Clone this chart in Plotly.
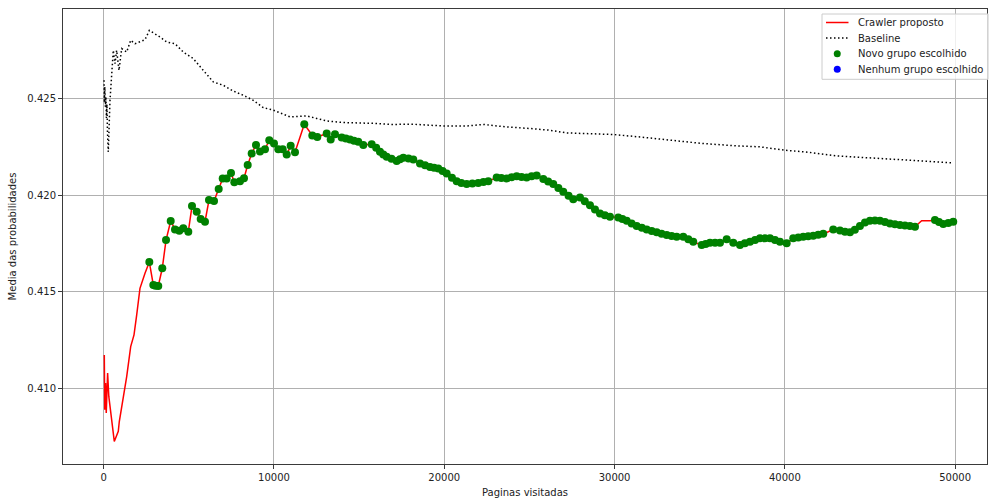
import plotly.graph_objects as go

# Crawler proposto: mean probability per visited page count
crawler_x = [35, 60, 110, 150, 230, 300, 622, 857, 916, 1192, 1350, 1585, 1780, 1938, 2130, 2425,
             2680, 2915, 3205, 3440, 3660, 3935, 4187, 4440, 4675, 4968, 5185, 5460, 5696, 5948,
             6183, 6477, 6753, 6988, 7222, 7475, 7670, 8004, 8238, 8456, 8690, 8943, 9178, 9472,
             9724, 10000, 10253, 10510, 10746, 10980, 11233, 11780, 12250, 12543, 13095, 13330,
             13582, 13975, 14463, 14950, 15244, 15737, 16224, 16618, 16900, 17205, 17593, 17900,
             18180, 18573, 19160, 19648, 20141, 20450, 20728, 21000, 21315, 21650, 21996, 22300,
             22584, 23077, 23350, 23664, 23950, 24251, 24540, 24838, 25130, 25426, 25814, 26100,
             26400, 26700, 26988, 27300, 27575, 27968, 28250, 28555, 28850, 29143, 29430, 29730,
             30217, 30460, 30711, 31000, 31298, 31600, 31885, 32180, 32472, 32760, 33060, 33350,
             33647, 34034, 34330, 34620, 35115, 35350, 35602, 35900, 36189, 36583, 36970, 37364,
             37650, 37951, 38250, 38538, 38830, 39125, 39420, 39712, 40106, 40493, 40790, 41080,
             41370, 41667, 41960, 42255, 42550, 42842, 43236, 43530, 43823, 44110, 44410, 44704,
             44997, 45290, 45584, 45880, 46171, 46460, 46759, 47050, 47346, 47640, 48033, 48521,
             48814, 49050, 49301, 49600, 49888]
crawler_y = [0.41172, 0.40888, 0.41026, 0.40871, 0.41078, 0.40957, 0.40724, 0.40776, 0.40827,
             0.40974, 0.41060, 0.41215, 0.41276, 0.41379, 0.41517, 0.41595, 0.41653, 0.41534,
             0.41529, 0.41621, 0.41767, 0.41866, 0.41822, 0.41815, 0.41828, 0.41810, 0.41943,
             0.41914, 0.41876, 0.41862, 0.41974, 0.41969, 0.42032, 0.42086, 0.42086, 0.42115,
             0.42066, 0.42072, 0.42087, 0.42156, 0.42215, 0.42260, 0.42226, 0.42238, 0.42284,
             0.42267, 0.42238, 0.42238, 0.42210, 0.42255, 0.42222, 0.42367, 0.42309, 0.42301,
             0.42319, 0.42288, 0.42315, 0.42298, 0.42288, 0.42276, 0.42259, 0.42264, 0.42224,
             0.42198, 0.42188, 0.42177, 0.42193, 0.42190, 0.42185, 0.42164, 0.42146, 0.42138,
             0.42112, 0.42090, 0.42072, 0.42062, 0.42057, 0.42060, 0.42063, 0.42068, 0.42072,
             0.42091, 0.42088, 0.42086, 0.42092, 0.42098, 0.42094, 0.42091, 0.42097, 0.42102,
             0.42083, 0.42070, 0.42057, 0.42037, 0.42017, 0.41997, 0.41978, 0.41988, 0.41968,
             0.41948, 0.41926, 0.41905, 0.41895, 0.41888, 0.41884, 0.41876, 0.41867, 0.41853,
             0.41840, 0.41831, 0.41822, 0.41814, 0.41807, 0.41800, 0.41793, 0.41788, 0.41784,
             0.41784, 0.41771, 0.41758, 0.41741, 0.41747, 0.41753, 0.41753, 0.41753, 0.41771,
             0.41753, 0.41741, 0.41750, 0.41758, 0.41767, 0.41776, 0.41776, 0.41776, 0.41767,
             0.41758, 0.41750, 0.41776, 0.41780, 0.41784, 0.41787, 0.41790, 0.41794, 0.41800,
             0.41810, 0.41822, 0.41817, 0.41810, 0.41807, 0.41820, 0.41840, 0.41858, 0.41867,
             0.41869, 0.41867, 0.41860, 0.41853, 0.41849, 0.41845, 0.41843, 0.41840, 0.41836,
             0.41867, 0.41867, 0.41871, 0.41860, 0.41850, 0.41855, 0.41862]

# Pages where a new group was chosen
novo_x = [2680, 2915, 3040, 3205, 3440, 3660, 3935, 4187, 4440, 4675, 4968, 5185, 5460, 5696,
          5948, 6183, 6477, 6753, 6988, 7222, 7475, 7670, 8004, 8238, 8456, 8690, 8943, 9178,
          9472, 9724, 10000, 10253, 10510, 10746, 10980, 11233, 11780, 12250, 12543, 13095,
          13330, 13582, 13975, 14220, 14463, 14700, 14950, 15244, 15737, 16000, 16224, 16420,
          16618, 16900, 17205, 17400, 17593, 17900, 18180, 18573, 18870, 19160, 19400, 19648,
          19900, 20141, 20450, 20728, 21000, 21315, 21650, 21996, 22300, 22584, 23077, 23350,
          23664, 23950, 24251, 24540, 24838, 25130, 25426, 25814, 26100, 26400, 26700, 26988,
          27300, 27575, 27968, 28250, 28555, 28850, 29143, 29430, 29730, 30217, 30460, 30711,
          31000, 31298, 31600, 31885, 32180, 32472, 32760, 33060, 33350, 33647, 34034, 34330,
          34620, 35115, 35350, 35602, 35900, 36189, 36583, 36970, 37364, 37650, 37951, 38250,
          38538, 38830, 39125, 39420, 39712, 40106, 40493, 40790, 41080, 41370, 41667, 41960,
          42255, 42842, 43236, 43530, 43823, 44110, 44410, 44704, 44997, 45290, 45584, 45880,
          46171, 46460, 46759, 47050, 47346, 47640, 48814, 49050, 49301, 49600, 49888]
novo_y = [0.41653, 0.41534, 0.41531, 0.41529, 0.41621, 0.41767, 0.41866, 0.41822, 0.41815,
          0.41828, 0.41810, 0.41943, 0.41914, 0.41876, 0.41862, 0.41974, 0.41969, 0.42032,
          0.42086, 0.42086, 0.42115, 0.42066, 0.42072, 0.42087, 0.42156, 0.42215, 0.42260,
          0.42226, 0.42238, 0.42284, 0.42267, 0.42238, 0.42238, 0.42210, 0.42255, 0.42222,
          0.42367, 0.42309, 0.42301, 0.42319, 0.42288, 0.42315, 0.42298, 0.42293, 0.42288,
          0.42282, 0.42276, 0.42259, 0.42264, 0.42245, 0.42224, 0.42210, 0.42198, 0.42188,
          0.42177, 0.42186, 0.42193, 0.42190, 0.42185, 0.42164, 0.42155, 0.42146, 0.42142,
          0.42138, 0.42125, 0.42112, 0.42090, 0.42072, 0.42062, 0.42057, 0.42060, 0.42063,
          0.42068, 0.42072, 0.42091, 0.42088, 0.42086, 0.42092, 0.42098, 0.42094, 0.42091,
          0.42097, 0.42102, 0.42083, 0.42070, 0.42057, 0.42037, 0.42017, 0.41997, 0.41978,
          0.41988, 0.41968, 0.41948, 0.41926, 0.41905, 0.41895, 0.41888, 0.41884, 0.41876,
          0.41867, 0.41853, 0.41840, 0.41831, 0.41822, 0.41814, 0.41807, 0.41800, 0.41793,
          0.41788, 0.41784, 0.41784, 0.41771, 0.41758, 0.41741, 0.41747, 0.41753, 0.41753,
          0.41753, 0.41771, 0.41753, 0.41741, 0.41750, 0.41758, 0.41767, 0.41776, 0.41776,
          0.41776, 0.41767, 0.41758, 0.41750, 0.41776, 0.41780, 0.41784, 0.41787, 0.41790,
          0.41794, 0.41800, 0.41822, 0.41817, 0.41810, 0.41807, 0.41820, 0.41840, 0.41858,
          0.41867, 0.41869, 0.41867, 0.41860, 0.41853, 0.41849, 0.41845, 0.41843, 0.41840,
          0.41836, 0.41871, 0.41860, 0.41850, 0.41855, 0.41862]

# Pages where no group was chosen (none in this run)
nenhum_x = []
nenhum_y = []

# Baseline crawler
baseline_x = [20, 40, 70, 100, 130, 160, 190, 220, 270, 370, 470, 564, 663, 760, 898, 1056, 1350,
              1585, 1838, 2130, 2425, 2680, 3012, 3306, 3700, 4187, 4675, 5261, 5848, 6436, 7023,
              7610, 8197, 8785, 9372, 9959, 10546, 10940, 11527, 11920, 12507, 13095, 14069,
              15050, 16031, 16812, 18180, 19941, 21315, 22290, 23664, 25032, 26207, 27187, 28750,
              29924, 31492, 32860, 33840, 35209, 37170, 38538, 39965, 41473, 43041, 44604, 46171,
              47739, 48913, 49888]
baseline_y = [0.42595, 0.42480, 0.42560, 0.42457, 0.42508, 0.42400, 0.42470, 0.42330, 0.42224,
              0.42491, 0.42629, 0.42750, 0.42681, 0.42750, 0.42646, 0.42759, 0.42741, 0.42802,
              0.42784, 0.42793, 0.42805, 0.42853, 0.42836, 0.42819, 0.42793, 0.42784, 0.42741,
              0.42707, 0.42646, 0.42586, 0.42569, 0.42539, 0.42517, 0.42491, 0.42453, 0.42440,
              0.42419, 0.42405, 0.42408, 0.42410, 0.42397, 0.42384, 0.42376, 0.42374, 0.42371,
              0.42366, 0.42367, 0.42358, 0.42358, 0.42366, 0.42353, 0.42345, 0.42336, 0.42322,
              0.42319, 0.42314, 0.42301, 0.42289, 0.42279, 0.42267, 0.42255, 0.42250, 0.42233,
              0.42221, 0.42203, 0.42195, 0.42186, 0.42177, 0.42172, 0.42167]

x_ticks = [0, 10000, 20000, 30000, 40000, 50000]
y_ticks = [0.410, 0.415, 0.420, 0.425]

series_names = ["Crawler proposto", "Baseline", "Novo grupo escolhido", "Nenhum grupo escolhido"]

RED = "red"
BLACK = "black"
GREEN = "#008000"
BLUE = "#0000ff"
DOT_DASH = "1.5px,2.5px"

fig = go.Figure()
fig.add_trace(go.Scatter(x=crawler_x, y=crawler_y, mode="lines", name=series_names[0],
                         line=dict(color=RED, width=1.5)))
fig.add_trace(go.Scatter(x=baseline_x, y=baseline_y, mode="lines", name=series_names[1],
                         line=dict(color=BLACK, width=1.5, dash=DOT_DASH)))
fig.add_trace(go.Scatter(x=novo_x, y=novo_y, mode="markers", name=series_names[2],
                         marker=dict(color=GREEN, size=8)))
fig.add_trace(go.Scatter(x=nenhum_x, y=nenhum_y, mode="markers", name=series_names[3],
                         marker=dict(color=BLUE, size=8)))

axis_common = dict(showgrid=True, gridcolor="#b0b0b0", gridwidth=1, zeroline=False,
                   showline=True, linecolor="#3a3a3a", linewidth=1, mirror=True,
                   ticks="outside", ticklen=4, tickcolor="#3a3a3a",
                   tickfont=dict(size=10, color="#222"))

# Legend box in the upper-right corner (paper coordinates)
W_PLOT, H_PLOT = 924.0, 455.0
box_x0, box_x1 = 1.0 - 165.0 / W_PLOT, 1.0 + 1.0 / W_PLOT
box_y1 = 1.0 - 5.0 / H_PLOT
row_step = 15.6 / H_PLOT
row0 = 1.0 - 13.5 / H_PLOT
sample_x0 = box_x0 + 4.0 / W_PLOT
sample_x1 = box_x0 + 26.5 / W_PLOT
sample_xc = (sample_x0 + sample_x1) / 2
text_x = box_x0 + 34.0 / W_PLOT
rows = [row0 - i * row_step for i in range(4)]
box_y0 = rows[-1] - 10.0 / H_PLOT

shapes = [
    dict(type="rect", xref="paper", yref="paper", x0=box_x0, x1=box_x1, y0=box_y0, y1=box_y1,
         fillcolor="rgba(255,255,255,0.8)", line=dict(color="#cccccc", width=1), layer="above"),
    dict(type="line", xref="paper", yref="paper", x0=sample_x0, x1=sample_x1, y0=rows[0],
         y1=rows[0], line=dict(color=RED, width=1.5), layer="above"),
    dict(type="line", xref="paper", yref="paper", x0=sample_x0, x1=sample_x1, y0=rows[1],
         y1=rows[1], line=dict(color=BLACK, width=1.5, dash=DOT_DASH), layer="above"),
]
for row, color in ((rows[2], GREEN), (rows[3], BLUE)):
    shapes.append(dict(type="circle", xref="paper", yref="paper", xsizemode="pixel",
                       ysizemode="pixel", xanchor=sample_xc, yanchor=row,
                       x0=-3.5, x1=3.5, y0=-3.5, y1=3.5,
                       fillcolor=color, line=dict(color=color, width=0), layer="above"))

annotations = [dict(xref="paper", yref="paper", x=text_x, y=row, text=name, showarrow=False,
                    xanchor="left", yanchor="middle", font=dict(size=10, color="#222"))
               for row, name in zip(rows, series_names)]

fig.update_layout(
    width=989, height=498,
    margin=dict(l=63, r=2, t=9, b=34),
    paper_bgcolor="white", plot_bgcolor="white",
    font=dict(family="DejaVu Sans", size=10, color="#222"),
    xaxis=dict(range=[-2390, 51870], tickvals=x_ticks, ticktext=[str(v) for v in x_ticks],
               title=dict(text="Paginas visitadas", standoff=6, font=dict(size=10)),
               **axis_common),
    yaxis=dict(range=[0.40607, 0.42964], tickvals=y_ticks,
               ticktext=[f"{v:.3f}" for v in y_ticks],
               title=dict(text="Media das probabilidades", standoff=8, font=dict(size=10)),
               **axis_common),
    showlegend=False,
    shapes=shapes,
    annotations=annotations,
)

fig.write_html("out.html")
